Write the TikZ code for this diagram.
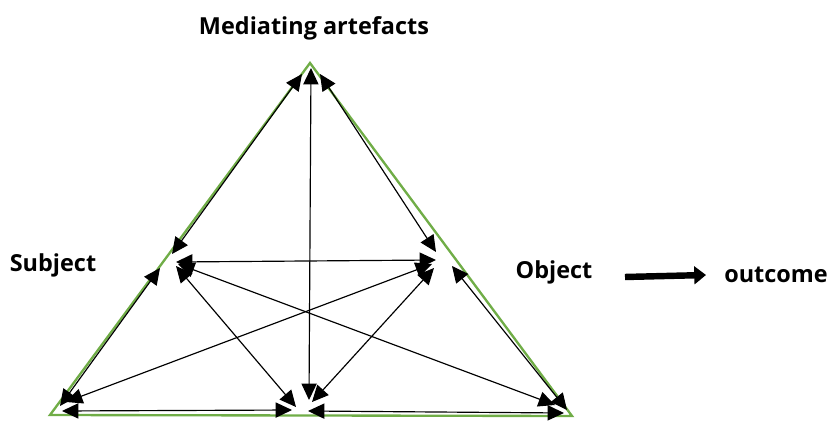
\documentclass[tikz,border=0pt]{standalone}
\usepackage{fontspec}
\setmainfont{Open Sans}
\usetikzlibrary{arrows.meta}
\definecolor{tgreen}{HTML}{70AD47}
\tikzset{
  lab/.style={font=\fontsize{20}{24}\selectfont\bfseries, inner sep=0pt},
  link/.style={black, line width=1pt, {Triangle[length=14pt,width=13pt]}-{Triangle[length=14pt,width=13pt]}},
  pt/.style={inner sep=0pt, minimum size=0pt}
}
\begin{document}
\begin{tikzpicture}[x=0.03cm,y=-0.03cm]
\useasboundingbox (0,0) rectangle (831,428);
% green triangle
\draw[tgreen, line width=2pt, line join=miter] (310,63) -- (50,415) -- (572,416) -- cycle;
% anchor points
\coordinate (Ta) at (302,74);
\coordinate (Tb) at (311,68);
\coordinate (Tc) at (320,74);
\coordinate (La) at (172,254);
\coordinate (Lb) at (160,268);
\coordinate (Lc) at (176,262);
\coordinate (Ld) at (176,266);
\coordinate (Le) at (178,264);
\coordinate (Ra) at (436,252);
\coordinate (Rb) at (452,266);
\coordinate (Rc) at (436,260);
\coordinate (Rd) at (432,264);
\coordinate (Re) at (434,268);
\coordinate (BLa) at (60,406);
\coordinate (BLb) at (66,402);
\coordinate (BLc) at (62,411);
\coordinate (BMa) at (309,400);
\coordinate (BMb) at (296,407);
\coordinate (BMc) at (312,402);
\coordinate (BMd) at (292,410);
\coordinate (BMe) at (308,411);
\coordinate (BRa) at (567,410);
\coordinate (BRb) at (555,405);
\coordinate (BRc) at (564,413);
% links
\draw[link] (Ta) -- (La);
\draw[link] (Lb) -- (BLa);
\draw[link] (Tc) -- (Ra);
\draw[link] (Rb) -- (BRa);
\draw[link] (Tb) -- (BMa);
\draw[link] (Lc) -- (Rc);
\draw[link] (Ld) -- (BMb);
\draw[link] (Le) -- (BRb);
\draw[link] (BLb) -- (Rd);
\draw[link] (BMc) -- (Re);
\draw[link] (BLc) -- (BMd);
\draw[link] (BMe) -- (BRc);
% labels
\node[lab] (med) at (314,28) {Mediating artefacts};
\node[lab] (subj) at (53,265) {Subject};
\node[lab] (obj) at (554,272) {Object};
\node[lab] (out) at (776,275) {outcome};
\coordinate (oa) at (625,277);
\draw[line width=5.5pt, -{Triangle[length=10pt,width=15pt]}] (oa) -- (out.west -| 706,0);
\end{tikzpicture}
\end{document}
